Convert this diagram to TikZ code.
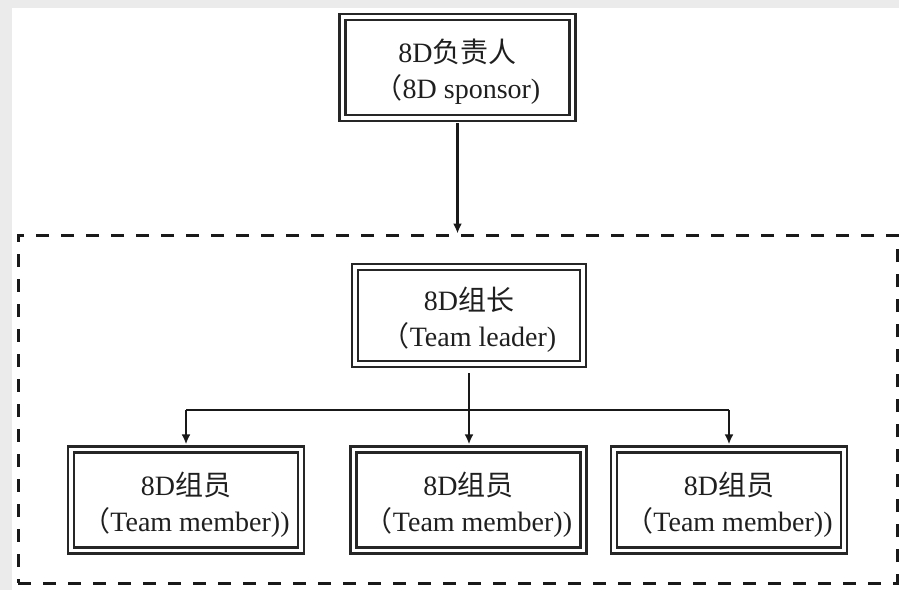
\documentclass[tikz,border=0pt]{standalone}
\usepackage{fontspec}
\setmainfont{Liberation Serif}
\newfontfamily\cjk{Noto Sans CJK SC}
\usetikzlibrary{arrows.meta}

% two centred lines, set a little below the box centre
\newcommand\twolines[2]{\raisebox{-6pt}[\height][\depth]{%
  \begin{tabular}{@{}c@{}}#1\\#2\end{tabular}}}

\begin{document}
\begin{tikzpicture}[x=1pt,y=-1pt,
  box/.style={draw=black!85, line width=2.3pt, double, double distance=3.8pt,
    minimum width=230pt, minimum height=101pt, inner sep=0pt,
    text=black!88, font=\fontsize{28}{36}\selectfont},
  teambox/.style={draw=black!90, line width=3pt, dash pattern=on 13pt off 12pt,
    minimum width=879pt, minimum height=348pt, inner sep=0pt},
  link/.style={draw=black!90, line width=2.2pt},
  arr/.style={link, -{Latex[length=10pt,width=9pt]}}]

% canvas with the grey edge strips
\fill[white] (0,0) rectangle (899,590);
\fill[black!8] (0,0) rectangle (12,590);
\fill[black!8] (0,0) rectangle (899,8);
\useasboundingbox (0,0) rectangle (899,590);

% team frame
\node[teambox] (team) at (457.5,409) {};

% sponsor and leader
\node[box] (sponsor) at (457.5,67.5) {\twolines{8D{\cjk 负责人}}{{\cjk （}8D sponsor)}};
\node[box, minimum width=228pt, minimum height=97pt] (lead) at (469,315.5)
  {\twolines{8D{\cjk 组长}}{{\cjk （}Team leader)}};

% members
\node[box] (m1) at (186,500) {\twolines{8D{\cjk 组员}}{{\cjk （}Team member))}};
\node[box] (m2) at (468.5,500) {\twolines{8D{\cjk 组员}}{{\cjk （}Team member))}};
\node[box] (m3) at (729,500) {\twolines{8D{\cjk 组员}}{{\cjk （}Team member))}};

% connectors
\draw[arr, shorten <=4pt] (sponsor.south) -- (team.north);
\coordinate (bus) at (469,410);
\draw[link, shorten <=8pt] (lead.south) -- (bus);
\draw[link] (m1.north |- bus) -- (m3.north |- bus);
\draw[arr, shorten >=4pt] (m1.north |- bus) -- (m1.north);
\draw[arr, shorten >=4pt] (bus) -- (bus |- m2.north);
\draw[arr, shorten >=4pt] (m3.north |- bus) -- (m3.north);
\end{tikzpicture}
\end{document}
